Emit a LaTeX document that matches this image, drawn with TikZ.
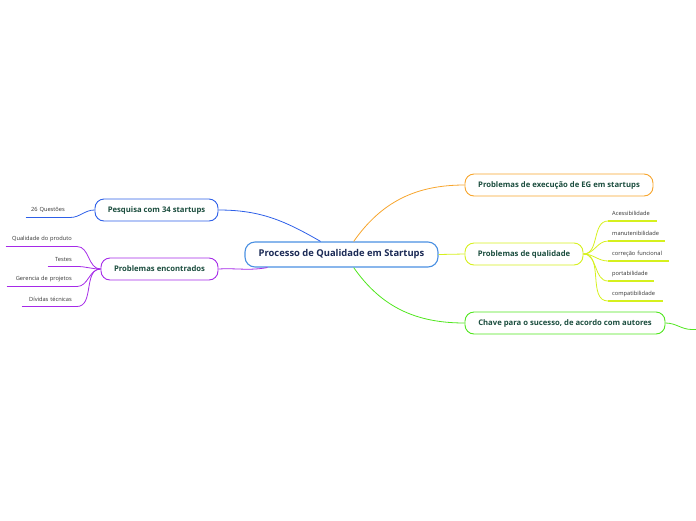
\documentclass[tikz,border=0pt]{standalone}
\usepackage{fontspec}
\setmainfont{Open Sans}
\usetikzlibrary{positioning}

\definecolor{rootblue}{HTML}{4A90E2}
\definecolor{rootink}{HTML}{1B2A55}
\definecolor{topicink}{HTML}{1B4D3E}
\definecolor{leafink}{HTML}{333333}
\definecolor{bluebr}{HTML}{2D5FE8}
\definecolor{purplebr}{HTML}{A52AE8}
\definecolor{orangebr}{HTML}{F7A52C}
\definecolor{yellowbr}{HTML}{D6F01E}
\definecolor{greenbr}{HTML}{50E61E}

\tikzset{
	root/.style={draw=rootblue, line width=1.1pt, rounded corners=10pt, fill=white, text=rootink,
		font=\fontsize{9.4}{11}\selectfont\bfseries, minimum width=193pt, minimum height=25pt},
	topic/.style={draw=#1, line width=0.9pt, rounded corners=9pt, fill=white, text=topicink,
		font=\fontsize{7.7}{9}\selectfont\bfseries, minimum height=22pt},
	leafl/.style={anchor=south east, text width=#1, align=right, inner xsep=5pt, inner ysep=0pt,
		minimum height=14pt, text=leafink, font=\fontsize{5.7}{6.5}\selectfont},
	leafr/.style={anchor=south west, text width=#1, align=left, inner xsep=4pt, inner ysep=0pt,
		minimum height=14pt, text=leafink, font=\fontsize{5.7}{6.5}\selectfont},
	link/.style={draw=#1, line width=0.8pt},
	uline/.style={draw=#1, line width=1.3pt},
}

\begin{document}
\begin{tikzpicture}[x=1pt, y=-1pt]
	\useasboundingbox (0,0) rectangle (696,520);

	% centre and main branches
	\node[root] (proc) at (341.5,254.5) {Processo de Qualidade em Startups};
	\node[topic=bluebr, minimum width=123pt] (pesq) at (156.5,210) {Pesquisa com 34 startups};
	\node[topic=purplebr, minimum width=117pt] (encon) at (159.5,269) {Problemas encontrados};
	\node[topic=orangebr, minimum width=188pt] (exec) at (559,185) {Problemas de execução de EG em startups};
	\node[topic=yellowbr, minimum width=118pt] (qual) at (524,254) {Problemas de qualidade};
	\node[topic=greenbr, minimum width=200pt] (chave) at (565,323) {Chave para o sucesso, de acordo com autores};

	\draw[link=bluebr] (pesq.east) to[out=0, in=150] (proc.148);
	\draw[link=purplebr] (encon.east) to[out=3, in=190] (proc.190);
	\draw[link=orangebr] (proc.47) to[out=55, in=180] (exec.west);
	\draw[link=yellowbr] (proc.east) -- (qual.west);
	\draw[link=greenbr] (proc.-47) to[out=-55, in=180] (chave.west);

	% pesquisa
	\node[leafl=34pt] (quest) at (70,217.5) {26 Questões};
	\draw[uline=bluebr] (quest.south west) -- (quest.south east);
	\draw[link=bluebr] (quest.south east) to[out=0, in=180] (pesq.west);

	% problemas encontrados
	\node[leafl=61pt] (prod) at (77,246.5) {Qualidade do produto};
	\node[leafl=19pt] (test) at (77,266.5) {Testes};
	\node[leafl=60pt] (ger) at (77,286.5) {Gerencia de projetos};
	\node[leafl=45pt] (div) at (77,306.5) {Dívidas técnicas};
	\foreach \n in {prod,test,ger,div}{
		\draw[uline=purplebr] (\n.south west) -- (\n.south east);
		\draw[link=purplebr] (\n.south east) to[out=0, in=180] (encon.west);
	}

	% problemas de qualidade
	\node[leafr=41pt] (aces) at (608,221) {Acessibilidade};
	\node[leafr=49pt] (manu) at (608,241) {manutenibilidade};
	\node[leafr=53pt] (corr) at (608,261) {correção funcional};
	\node[leafr=38pt] (port) at (608,281) {portabilidade};
	\node[leafr=47pt] (comp) at (608,301) {compatibilidade};
	\foreach \n in {aces,manu,corr,port,comp}{
		\draw[uline=yellowbr] (\n.south west) -- (\n.south east);
		\draw[link=yellowbr] (qual.east) to[out=0, in=180] (\n.south west);
	}

	% chave (cut at the edge)
	\coordinate (cutl) at (692,329.5);
	\coordinate (cutr) at (700,329.5);
	\draw[link=greenbr] (chave.east) to[out=0, in=180] (cutl);
	\draw[uline=greenbr] (cutl) -- (cutr);
\end{tikzpicture}
\end{document}
